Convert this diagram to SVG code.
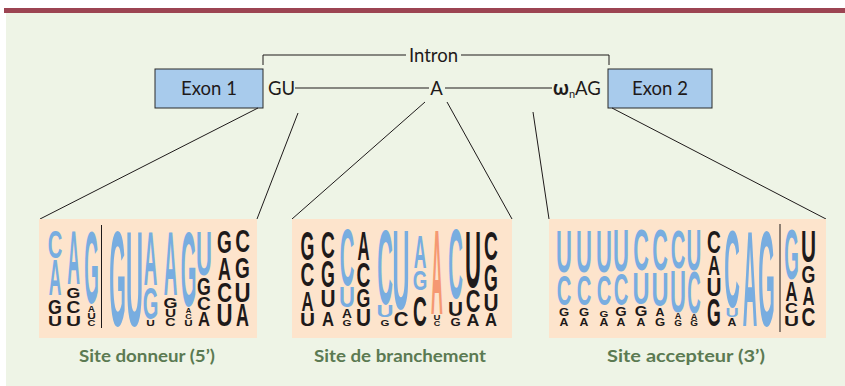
<svg xmlns="http://www.w3.org/2000/svg" width="845" height="386" viewBox="0 0 845 386">
<style>
.L{font-family:"Liberation Sans",Arial,sans-serif;font-weight:bold;font-size:13.97px;text-anchor:middle}
.b{fill:#78ade0}
.k{fill:#1e1a1a}
.o{fill:#f59872}
.t{font-family:Lato,"Open Sans",sans-serif;font-size:18.5px;fill:#1e1a1a}
.lab{font-family:Lato,"Open Sans",sans-serif;font-weight:bold;font-size:17.5px;fill:#5b7a52;text-anchor:middle}
.ln{stroke:#1e1a1a;stroke-width:1;fill:none}
.panel{fill:#fde4cc}
.box{fill:#a8cbec;stroke:#2a2a2a;stroke-width:1}
</style>
<rect x="0" y="0" width="845" height="386" fill="#ffffff"/>
<rect x="6" y="13" width="839" height="373" fill="#eef4e6"/>
<rect x="4" y="8" width="841" height="5" fill="#9c4452"/>

<g id="intron">
<path class="ln" d="M263,65 V55 H406 M461,55 H609 V65"/>
<text class="t" x="433.5" y="62" text-anchor="middle">Intron</text>
</g>
<g id="exon1">
<rect class="box" x="155" y="69" width="108" height="39"/>
<text class="t" x="209" y="95" text-anchor="middle">Exon 1</text>
</g>
<g id="exon2">
<rect class="box" x="608" y="69" width="104" height="39"/>
<text class="t" x="660" y="95" text-anchor="middle">Exon 2</text>
</g>
<g id="sites">
<text class="t" x="268" y="95">GU</text>
<text class="t" x="436.5" y="95" text-anchor="middle">A</text>
<text class="t" x="553" y="95"><tspan font-weight="bold" font-size="20">ω</tspan><tspan font-size="11" dy="3">n</tspan><tspan dy="-3">AG</tspan></text>
</g>
<g id="connectors">
<path class="ln" d="M295,88 H429 M445,88 H552"/>
<path class="ln" d="M258,108 L40,219 M298,113 L257,219 M425,102 L292,219 M447,102 L512,219 M533,112 L549,219 M612,108 L826,219"/>
</g>

<g id="logo-donneur">
<rect class="panel" x="39" y="219" width="218" height="119"/>
<line class="ln" x1="101.5" y1="225" x2="101.5" y2="328" stroke-width="1.3"/>
<text class="L b" transform="matrix(1.45 0 0 2.8 55 258)">C</text>
<text class="L b" transform="matrix(1.26 0 0 3.6 55 295)">A</text>
<text class="L k" transform="matrix(1.27 0 0 1.4 55 314)">G</text>
<text class="L k" transform="matrix(1.39 0 0 1.0 55 326)">U</text>
<text class="L b" transform="matrix(1.26 0 0 5.4 73.5 284)">A</text>
<text class="L k" transform="matrix(1.27 0 0 1.1 73.5 298)">G</text>
<text class="L k" transform="matrix(1.37 0 0 1.2 73.5 313)">C</text>
<text class="L k" transform="matrix(1.49 0 0 1.1 73.5 326)">U</text>
<text class="L b" transform="matrix(1.34 0 0 7.3 91.5 303)">G</text>
<text class="L k" transform="matrix(0.68 0 0 0.6 91.5 312)">A</text>
<text class="L k" transform="matrix(0.85 0 0 0.6 91.5 319)">U</text>
<text class="L k" transform="matrix(0.78 0 0 0.6 91.5 326)">C</text>
<text class="L b" transform="matrix(1.53 0 0 9.7 117.5 326)">G</text>
<text class="L b" transform="matrix(1.69 0 0 9.7 134.5 326)">U</text>
<text class="L b" transform="matrix(1.35 0 0 5.5 150.5 285)">A</text>
<text class="L b" transform="matrix(1.44 0 0 3.2 150.5 319)">G</text>
<text class="L k" transform="matrix(0.85 0 0 0.6 150.5 326)">U</text>
<text class="L b" transform="matrix(1.35 0 0 6.5 170.5 295)">A</text>
<text class="L k" transform="matrix(1.29 0 0 1.1 170.5 308)">G</text>
<text class="L k" transform="matrix(1.1 0 0 0.8 170.5 317)">U</text>
<text class="L k" transform="matrix(1.02 0 0 0.8 170.5 326)">C</text>
<text class="L b" transform="matrix(1.44 0 0 7.6 188.5 306)">G</text>
<text class="L k" transform="matrix(0.55 0 0 0.5 188.5 313)">A</text>
<text class="L k" transform="matrix(0.64 0 0 0.5 188.5 319)">C</text>
<text class="L k" transform="matrix(0.83 0 0 0.6 188.5 326)">U</text>
<text class="L b" transform="matrix(1.58 0 0 4.5 204 275)">U</text>
<text class="L k" transform="matrix(1.27 0 0 1.7 204 295)">G</text>
<text class="L k" transform="matrix(1.37 0 0 1.3 204 310)">C</text>
<text class="L k" transform="matrix(1.19 0 0 1.4 204 326)">A</text>
<text class="L k" transform="matrix(1.36 0 0 2.3 224.5 253)">G</text>
<text class="L k" transform="matrix(1.28 0 0 2.3 224.5 280)">A</text>
<text class="L k" transform="matrix(1.46 0 0 2.0 224.5 302)">C</text>
<text class="L k" transform="matrix(1.59 0 0 2.2 224.5 326)">U</text>
<text class="L k" transform="matrix(1.46 0 0 2.2 242.5 252)">C</text>
<text class="L k" transform="matrix(1.36 0 0 2.1 242.5 278)">G</text>
<text class="L k" transform="matrix(1.59 0 0 2.0 242.5 302)">U</text>
<text class="L k" transform="matrix(1.28 0 0 2.2 242.5 326)">A</text>
</g>

<g id="logo-branchement">
<rect class="panel" x="292" y="219" width="220" height="119"/>
<text class="L k" transform="matrix(1.27 0 0 2.9 307.5 260)">G</text>
<text class="L k" transform="matrix(1.37 0 0 2.4 307.5 286)">C</text>
<text class="L k" transform="matrix(1.19 0 0 2.0 307.5 311)">A</text>
<text class="L k" transform="matrix(1.49 0 0 1.3 307.5 326)">U</text>
<text class="L k" transform="matrix(1.37 0 0 2.7 328 258)">C</text>
<text class="L k" transform="matrix(1.27 0 0 2.7 328 287)">G</text>
<text class="L k" transform="matrix(1.49 0 0 1.7 328 307)">U</text>
<text class="L k" transform="matrix(1.19 0 0 1.4 328 326)">A</text>
<text class="L b" transform="matrix(1.45 0 0 5.7 347 285)">C</text>
<text class="L b" transform="matrix(1.58 0 0 2.1 347 307)">U</text>
<text class="L k" transform="matrix(0.99 0 0 0.9 347 318)">A</text>
<text class="L k" transform="matrix(0.82 0 0 0.7 347 326)">G</text>
<text class="L k" transform="matrix(1.19 0 0 2.9 363.5 260)">A</text>
<text class="L k" transform="matrix(1.37 0 0 2.5 363.5 287)">C</text>
<text class="L k" transform="matrix(1.27 0 0 1.8 363.5 307)">G</text>
<text class="L k" transform="matrix(1.49 0 0 1.7 363.5 326)">U</text>
<text class="L b" transform="matrix(1.55 0 0 7.6 385 304)">C</text>
<text class="L b" transform="matrix(1.69 0 0 1.2 385 317)">U</text>
<text class="L k" transform="matrix(0.82 0 0 0.7 385 326)">G</text>
<text class="L b" transform="matrix(1.69 0 0 8.1 401 309)">U</text>
<text class="L k" transform="matrix(1.46 0 0 1.5 401 326)">C</text>
<text class="L b" transform="matrix(1.26 0 0 3.3 420 268)">A</text>
<text class="L b" transform="matrix(1.34 0 0 2.0 420 290)">G</text>
<text class="L k" transform="matrix(1.37 0 0 3.1 420 326)">C</text>
<text class="L o" transform="matrix(1.17 0 0 8.6 437 314)">A</text>
<text class="L k" transform="matrix(0.69 0 0 0.5 437 320)">U</text>
<text class="L k" transform="matrix(0.64 0 0 0.5 437 326)">C</text>
<text class="L b" transform="matrix(1.45 0 0 7.0 455.5 298)">C</text>
<text class="L k" transform="matrix(1.49 0 0 1.4 455.5 316)">U</text>
<text class="L k" transform="matrix(0.94 0 0 0.8 455.5 326)">G</text>
<text class="L k" transform="matrix(1.59 0 0 5.7 473 287)">U</text>
<text class="L k" transform="matrix(1.46 0 0 2.3 473 312)">C</text>
<text class="L k" transform="matrix(1.28 0 0 1.2 473 326)">A</text>
<text class="L k" transform="matrix(1.37 0 0 2.9 491 260)">C</text>
<text class="L k" transform="matrix(1.27 0 0 2.7 491 291)">G</text>
<text class="L k" transform="matrix(1.49 0 0 1.7 491 311)">U</text>
<text class="L k" transform="matrix(1.19 0 0 1.3 491 326)">A</text>
</g>

<g id="logo-accepteur">
<rect class="panel" x="549" y="219" width="277" height="119"/>
<line class="ln" x1="780" y1="224" x2="780" y2="332" stroke-width="1.3"/>
<text class="L b" transform="matrix(1.58 0 0 4.3 564 272)">U</text>
<text class="L b" transform="matrix(1.45 0 0 3.1 564 305)">C</text>
<text class="L k" transform="matrix(0.94 0 0 0.8 564 316)">G</text>
<text class="L k" transform="matrix(0.88 0 0 0.8 564 326)">A</text>
<text class="L b" transform="matrix(1.58 0 0 4.3 584 272)">U</text>
<text class="L b" transform="matrix(1.45 0 0 3.1 584 305)">C</text>
<text class="L k" transform="matrix(0.94 0 0 0.8 584 316)">G</text>
<text class="L k" transform="matrix(0.88 0 0 0.8 584 326)">A</text>
<text class="L b" transform="matrix(1.58 0 0 4.3 604 272)">U</text>
<text class="L b" transform="matrix(1.45 0 0 3.1 604 305)">C</text>
<text class="L k" transform="matrix(0.82 0 0 0.7 604 317)">G</text>
<text class="L k" transform="matrix(0.88 0 0 0.8 604 326)">A</text>
<text class="L b" transform="matrix(1.58 0 0 4.2 621 271)">U</text>
<text class="L b" transform="matrix(1.45 0 0 3.2 621 305)">C</text>
<text class="L k" transform="matrix(1.05 0 0 0.9 621 316)">G</text>
<text class="L k" transform="matrix(0.88 0 0 0.8 621 326)">A</text>
<text class="L b" transform="matrix(1.55 0 0 4.1 641 270)">C</text>
<text class="L b" transform="matrix(1.69 0 0 3.2 641 304)">U</text>
<text class="L k" transform="matrix(1.17 0 0 1.0 641 316)">G</text>
<text class="L k" transform="matrix(0.88 0 0 0.8 641 326)">A</text>
<text class="L b" transform="matrix(1.55 0 0 4.1 660 270)">C</text>
<text class="L b" transform="matrix(1.69 0 0 3.4 660 306)">U</text>
<text class="L k" transform="matrix(0.88 0 0 0.8 660 316)">A</text>
<text class="L k" transform="matrix(0.94 0 0 0.8 660 326)">G</text>
<text class="L b" transform="matrix(1.45 0 0 3.9 678 268)">C</text>
<text class="L b" transform="matrix(1.58 0 0 4.2 678 312)">U</text>
<text class="L k" transform="matrix(0.66 0 0 0.6 678 319)">A</text>
<text class="L k" transform="matrix(0.71 0 0 0.6 678 326)">G</text>
<text class="L b" transform="matrix(1.47 0 0 4.1 694 270)">U</text>
<text class="L b" transform="matrix(1.34 0 0 4.2 694 313)">C</text>
<text class="L k" transform="matrix(0.66 0 0 0.6 694 320)">A</text>
<text class="L k" transform="matrix(0.71 0 0 0.6 694 326)">G</text>
<text class="L k" transform="matrix(1.37 0 0 2.3 714 253)">C</text>
<text class="L k" transform="matrix(1.19 0 0 2.0 714 275)">A</text>
<text class="L k" transform="matrix(1.49 0 0 1.9 714 296)">U</text>
<text class="L k" transform="matrix(1.27 0 0 2.8 714 326)">G</text>
<text class="L b" transform="matrix(1.55 0 0 7.8 732 307)">C</text>
<text class="L b" transform="matrix(1.31 0 0 0.9 732 317)">U</text>
<text class="L k" transform="matrix(0.88 0 0 0.8 732 326)">A</text>
<text class="L b" transform="matrix(1.44 0 0 9.7 750 326)">A</text>
<text class="L b" transform="matrix(1.53 0 0 9.7 766.5 326)">G</text>
<text class="L b" transform="matrix(1.34 0 0 5.0 791.5 279)">G</text>
<text class="L k" transform="matrix(1.19 0 0 2.0 791.5 301)">A</text>
<text class="L k" transform="matrix(1.27 0 0 1.0 791.5 313)">C</text>
<text class="L k" transform="matrix(1.49 0 0 1.1 791.5 326)">U</text>
<text class="L k" transform="matrix(1.49 0 0 3.2 808.5 262)">U</text>
<text class="L k" transform="matrix(1.27 0 0 1.7 808.5 283)">G</text>
<text class="L k" transform="matrix(1.19 0 0 1.9 808.5 305)">A</text>
<text class="L k" transform="matrix(1.37 0 0 1.8 808.5 326)">C</text>
</g>

<g id="labels">
<text class="lab" x="147" y="362" textLength="136" lengthAdjust="spacingAndGlyphs">Site donneur (5’)</text>
<text class="lab" x="400" y="362" textLength="172" lengthAdjust="spacingAndGlyphs">Site de branchement</text>
<text class="lab" x="686" y="362" textLength="158" lengthAdjust="spacingAndGlyphs">Site accepteur (3’)</text>
</g>
</svg>
